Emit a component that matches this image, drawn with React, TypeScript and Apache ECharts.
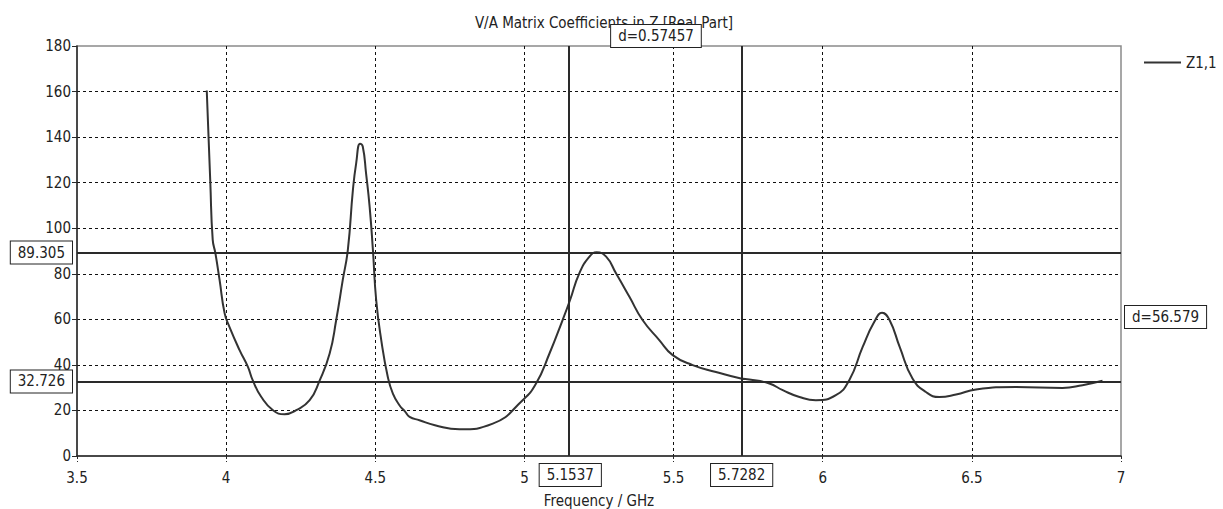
import React, { useEffect, useRef } from "react";
import * as echarts from "echarts";

const FONT = '"DejaVu Sans Condensed", "DejaVu Sans", sans-serif';

const titleText = "V/A Matrix Coefficients in Z [Real Part]";
const xAxisName = "Frequency / GHz";
const seriesName = "Z1,1";

const freq = [
  3.935, 3.947, 3.955, 3.964, 3.978, 3.995, 4.011, 4.045, 4.073, 4.089, 4.118, 4.157, 4.196, 4.235,
  4.28, 4.313, 4.347, 4.369, 4.391, 4.408, 4.425, 4.436, 4.449, 4.458, 4.469, 4.481, 4.492, 4.503,
  4.52, 4.542, 4.559, 4.581, 4.6, 4.615, 4.648, 4.7, 4.782, 4.894, 4.994, 5.039, 5.084, 5.128, 5.153,
  5.184, 5.218, 5.242, 5.274, 5.307, 5.352, 5.396, 5.452, 5.497, 5.564, 5.642, 5.726, 5.754, 5.821,
  5.866, 5.922, 5.977, 6.044, 6.089, 6.134, 6.173, 6.199, 6.224, 6.258, 6.301, 6.346, 6.391, 6.447,
  6.514, 6.648, 6.804, 6.871, 6.938,
];
const z11 = [
  160.5, 119.8, 94.9, 89, 77.3, 62.6, 56.7, 46.5, 39.1, 33.3, 25.9, 20.1, 18.3, 20.1,
  24.5, 33, 45, 59.7, 77.3, 90.5, 116.8, 128.6, 137.1, 135.9, 124.2, 109.5, 90.5, 68.5,
  50.9, 34.7, 27.4, 22.3, 19.5, 17.2, 15.7, 13.5, 11.7, 14.2, 24.5, 31.8, 45, 59.7, 68.5,
  80.2, 87.5, 89.4, 87.5, 80.2, 69.9, 59.7, 50.9, 44.3, 39.9, 36.9, 34, 33.6, 31.8,
  28.9, 25.9, 24.5, 26.7, 33.3, 47.9, 58.9, 62.9, 59.7, 47.9, 34, 28.1, 25.9, 27,
  29.2, 30.3, 29.9, 31.1, 33,
];

const xMarkers = [5.1537, 5.7282];
const yMarkers = [89.305, 32.726];
const xDeltaLabel = "d=0.57457";
const yDeltaLabel = "d=56.579";

const xMin = 3.5, xMax = 7, xStep = 0.5;
const yMin = 0, yMax = 180, yStep = 20;

export default function App() {
  const ref = useRef<HTMLDivElement>(null);
  useEffect(() => {
    if (!ref.current) return;
    const chart = echarts.init(ref.current, null, { renderer: "svg" });
    const dark = "#2a2a2a";
    const grid = { left: 77, right: 102, top: 46, bottom: 53 };
    const option: any = {
      animation: false,
      backgroundColor: "#fff",
      textStyle: { fontFamily: FONT },
      title: {
        text: titleText,
        left: 599,
        top: 10,
        textAlign: "center",
        textStyle: { fontFamily: FONT, fontSize: 15, fontWeight: "normal", color: "#222" },
      },
      legend: {
        left: 1139,
        top: 50,
        icon: "rect",
        itemWidth: 37,
        itemHeight: 2,
        textStyle: { fontFamily: FONT, fontSize: 15, color: "#222" },
        data: [seriesName],
      },
      grid: {
        ...grid,
        outerBoundsMode: "none",
        containLabel: false,
        show: true,
        borderColor: "#8a8a8a",
        borderWidth: 1.5,
        backgroundColor: "transparent",
      },
      xAxis: {
        type: "value",
        min: xMin,
        max: xMax,
        interval: xStep,
        name: xAxisName,
        nameLocation: "middle",
        nameGap: 37,
        nameTextStyle: { fontFamily: FONT, fontSize: 15, color: "#222" },
        axisLine: { show: true, onZero: false, lineStyle: { color: dark, width: 1.5 } },
        axisTick: { show: true, length: 6, lineStyle: { color: dark, width: 1, type: [3, 2] } },
        axisLabel: { fontFamily: FONT, fontSize: 15, color: "#222", margin: 14 },
        splitLine: { show: true, showMinLine: false, showMaxLine: false, lineStyle: { color: "#111", width: 1, type: [3, 3] } },
      },
      yAxis: {
        type: "value",
        min: yMin,
        max: yMax,
        interval: yStep,
        axisLine: { show: true, onZero: false, lineStyle: { color: dark, width: 1.5 } },
        axisTick: { show: true, length: 5, lineStyle: { color: dark, width: 1 } },
        axisLabel: { fontFamily: FONT, fontSize: 15, color: "#222", margin: 6 },
        splitLine: { show: true, showMinLine: false, showMaxLine: false, lineStyle: { color: "#111", width: 1, type: [3, 3] } },
      },
      series: [
        {
          name: seriesName,
          type: "line",
          data: freq.map((f, i) => [f, z11[i]]),
          showSymbol: false,
          smooth: 0.5,
          lineStyle: { color: "#333", width: 2 },
          itemStyle: { color: "#333" },
          z: 3,
          markLine: {
            silent: true,
            symbol: "none",
            label: { show: false },
            lineStyle: { color: "#2a2a2a", width: 2, type: "solid" },
            data: [
              ...xMarkers.map((v) => ({ xAxis: v })),
              ...yMarkers.map((v) => ({ yAxis: v })),
            ],
          },
        },
      ],
    };
    chart.setOption(option);

    const p = (x: number, y: number) => chart.convertToPixel({ gridIndex: 0 }, [x, y]) as number[];
    const [left, bottom] = p(xMin, yMin);
    const [right, top] = p(xMax, yMax);
    const boxStyle = {
      fontFamily: FONT,
      fontSize: 15,
      fill: "#222",
      backgroundColor: "#fff",
      borderColor: "#222",
      borderWidth: 1,
      padding: [4, 7, 3, 7],
    };
    const graphics: any[] = [];
    yMarkers.forEach((v) => {
      const [, y] = p(xMin, v);
      graphics.push({
        type: "text",
        x: left - 5,
        y,
        z: 100,
        style: { ...boxStyle, text: v.toFixed(3), align: "right", verticalAlign: "middle" },
      });
    });
    xMarkers.forEach((v) => {
      const [x] = p(v, yMin);
      graphics.push({
        type: "text",
        x,
        y: bottom + 19,
        z: 100,
        style: { ...boxStyle, text: v.toFixed(4), align: "center", verticalAlign: "middle" },
      });
    });
    const [xa] = p(xMarkers[0], yMin);
    const [xb] = p(xMarkers[1], yMin);
    graphics.push({
      type: "text",
      x: (xa + xb) / 2,
      y: top - 10,
      z: 100,
      style: { ...boxStyle, text: xDeltaLabel, align: "center", verticalAlign: "middle" },
    });
    const [, ya] = p(xMin, yMarkers[0]);
    const [, yb] = p(xMin, yMarkers[1]);
    graphics.push({
      type: "text",
      x: right + 4,
      y: (ya + yb) / 2,
      z: 100,
      style: { ...boxStyle, text: yDeltaLabel, align: "left", verticalAlign: "middle" },
    });
    chart.setOption({ graphic: graphics });

    return () => chart.dispose();
  }, []);
  return (
    <div
      ref={ref}
      style={{ position: "absolute", left: 0, top: 0, width: 1223, height: 509, background: "#fff" }}
    />
  );
}
